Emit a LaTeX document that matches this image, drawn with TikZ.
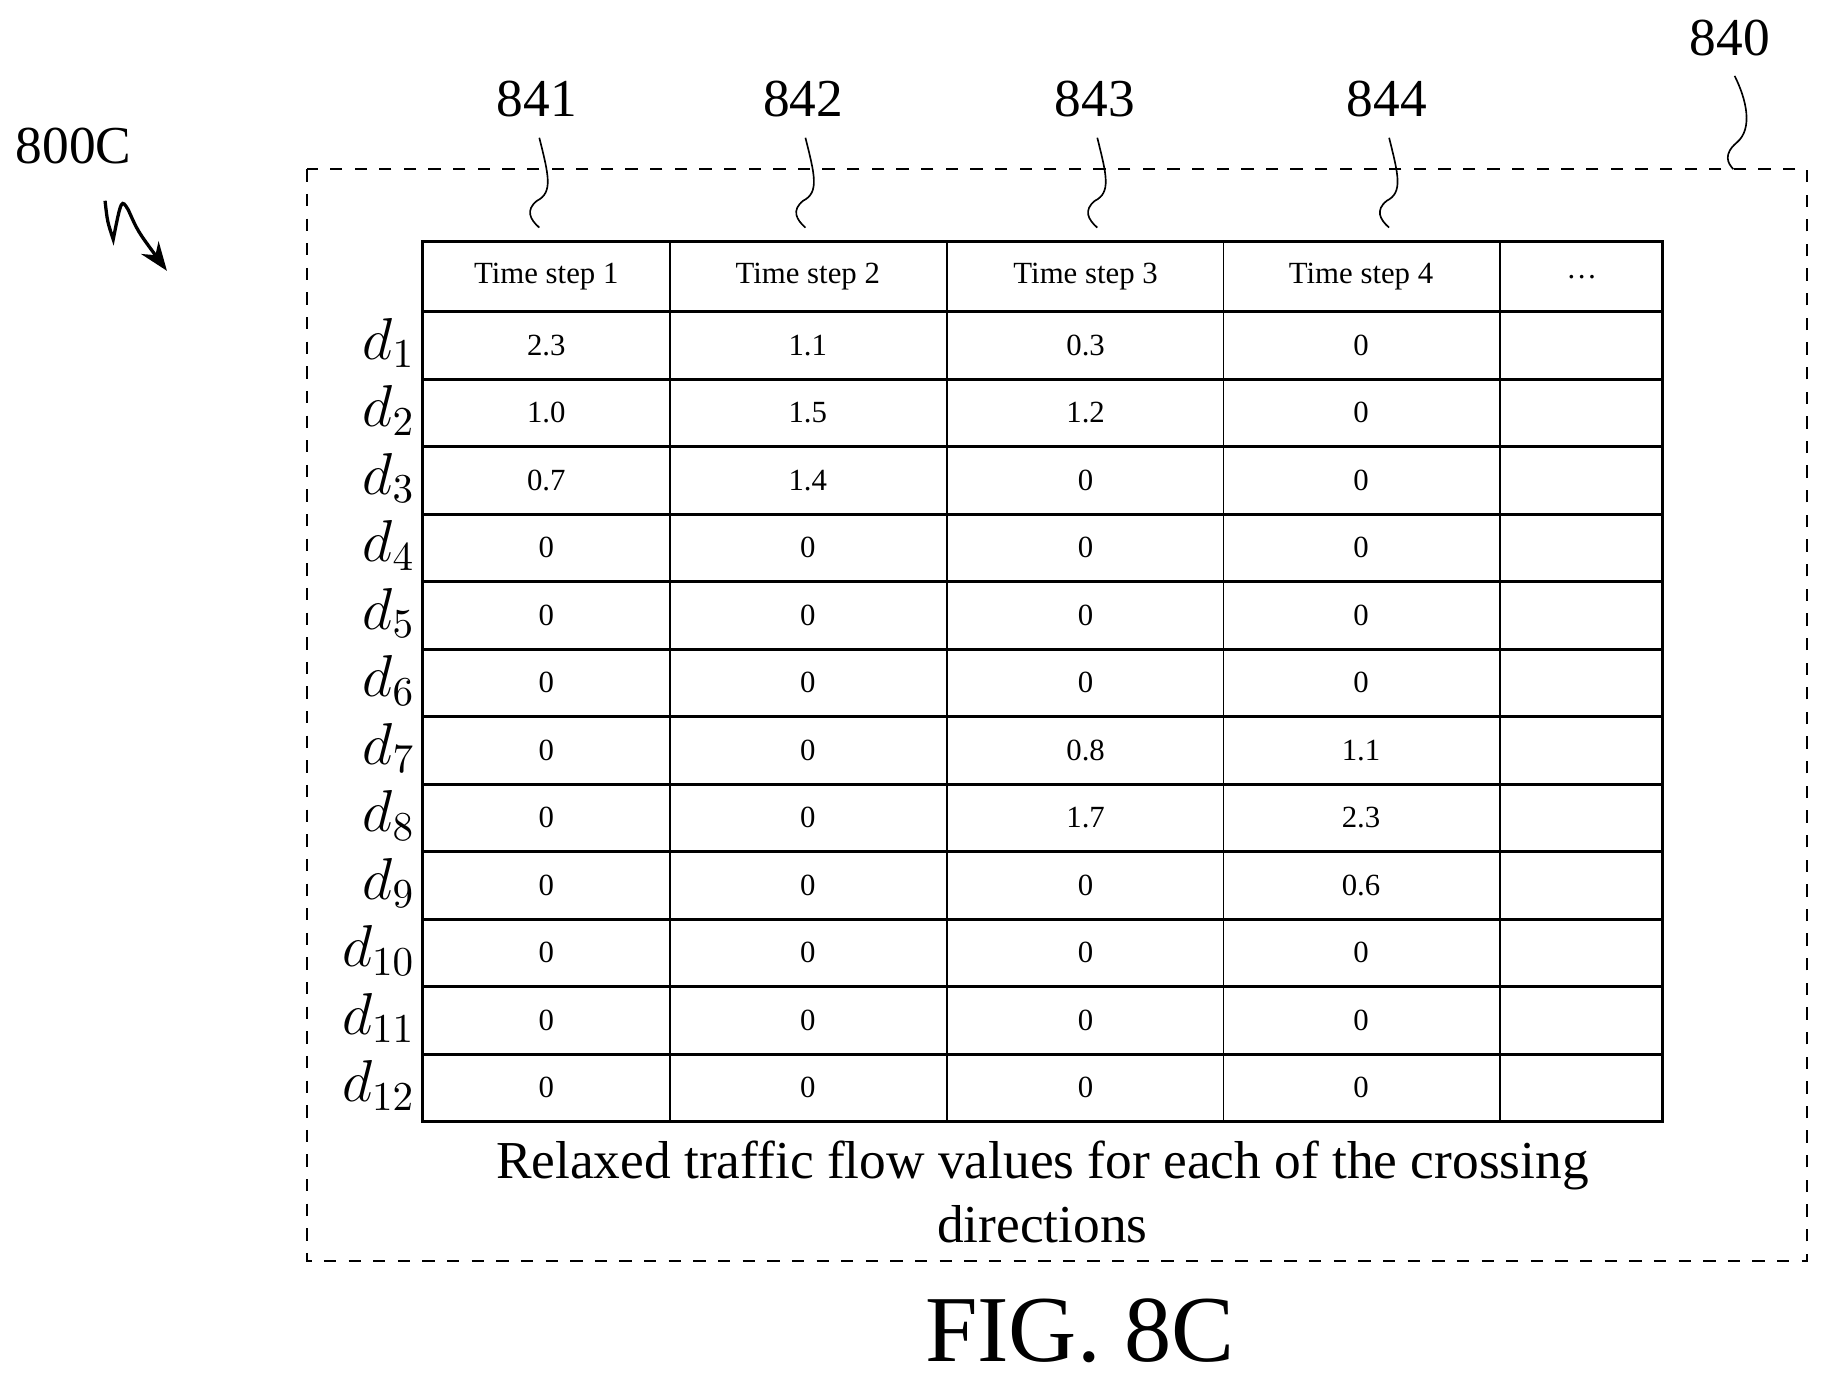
\documentclass[tikz,border=0pt]{standalone}
\usepackage{fontspec}
\setmainfont{Liberation Serif}
\usetikzlibrary{arrows.meta}

\begin{document}
\begin{tikzpicture}[x=0.01cm,y=-0.01cm]
	\useasboundingbox (0,0) rectangle (1560,1180);
	\tikzset{cell/.style={font=\fontsize{7.5}{9}\selectfont},
	         refnum/.style={font=\fontsize{13}{15}\selectfont},
	         lead/.style={thin}}

	% outer dashed frame
	\draw[dashed,thin] (263,145) rectangle (1548,1080);

	% table grid
	\draw[thick] (362,207) rectangle (1424,961);
	\foreach \x in {574,811,1048,1285}
	    \draw (\x,207) -- (\x,961);
	\foreach \i in {0,...,11}
	    \draw[thick] (362,267+\i*57.83) -- (1424,267+\i*57.83);

	% header
	\foreach \t [count=\c] in {Time step 1,Time step 2,Time step 3,Time step 4,\dots}
	    \node[cell] (h\c) at ({{468,692,930,1166,1355}[\c-1]},237) {\t};

	% values
	\foreach \r/\a/\b/\cc/\dd in {1/2.3/1.1/0.3/0, 2/1.0/1.5/1.2/0, 3/0.7/1.4/0/0,
	    4/0/0/0/0, 5/0/0/0/0, 6/0/0/0/0, 7/0/0/0.8/1.1, 8/0/0/1.7/2.3,
	    9/0/0/0/0.6, 10/0/0/0/0, 11/0/0/0/0, 12/0/0/0/0} {
	    \node[cell] (v\r a) at (468,267+\r*57.83-29) {\a};
	    \node[cell] (v\r b) at (692,267+\r*57.83-29) {\b};
	    \node[cell] (v\r c) at (930,267+\r*57.83-29) {\cc};
	    \node[cell] (v\r d) at (1166,267+\r*57.83-29) {\dd};
	    \node[anchor=east,font=\fontsize{14}{16}\selectfont,inner sep=1pt] (d\r) at (360,267+\r*57.83-31) {$d_{\r}$};
	}

	% caption inside frame
	\node[font=\fontsize{13}{15.5}\selectfont,align=center] (cap) at (893,1021)
	    {Relaxed traffic flow values for each of the crossing\\directions};

	% reference numbers with leaders
	\foreach \n/\x in {841/462,842/690,843/940,844/1190} {
	    \node[refnum] (r\n) at (\x-2,85) {\n};
	    \coordinate (e\n) at (\x,195);
	    \draw[lead] (\x,118) .. controls (\x+8,150) and (\x+12,165) .. (\x-2,172)
	        .. controls (\x-12,180) and (\x-8,188) .. (e\n);
	}
	\node[refnum] (r840) at (1482,33) {840};
	\coordinate (e840) at (1485,145);
	\draw[lead] (1486,65) .. controls (1496,85) and (1502,110) .. (1488,122)
	    .. controls (1476,132) and (1480,140) .. (e840);

	\node[refnum] (r800) at (63,125) {800C};
	\coordinate (a800) at (143,232);
	\draw[thick,-{Stealth[length=7pt]}] (90,172) .. controls (92,190) .. (97,205)
	    .. controls (104,170) .. (110,180) .. controls (118,198) .. (a800);

	\node[font=\fontsize{23}{27}\selectfont] (fig) at (925,1140) {FIG. 8C};
\end{tikzpicture}
\end{document}
